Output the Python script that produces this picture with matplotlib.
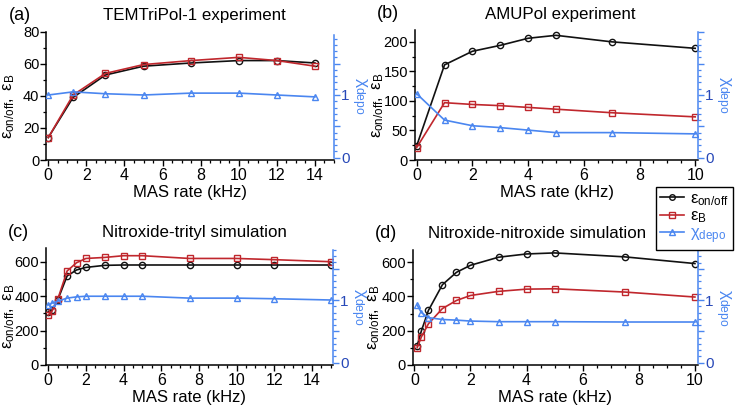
import numpy as np
import matplotlib
matplotlib.use('Agg')
import matplotlib.pyplot as plt
from matplotlib.ticker import MultipleLocator, FuncFormatter
from matplotlib.lines import Line2D

plt.rcParams['font.family'] = ['Liberation Sans', 'DejaVu Sans']
plt.rcParams['mathtext.fontset'] = 'custom'
plt.rcParams['mathtext.rm'] = 'Liberation Sans'
plt.rcParams['mathtext.it'] = 'Liberation Sans'
plt.rcParams['mathtext.bf'] = 'Liberation Sans'

# (a) TEMTriPol-1 experiment
a_x = [0, 1.3, 3, 5, 7.5, 10, 12, 14]
a_onoff = [14, 39, 53, 58.5, 60.5, 62, 62, 60.5]
a_B = [14, 40.5, 54, 59.5, 62, 64, 62, 58.5]
a_chi = [1.0, 1.05, 1.02, 1.0, 1.03, 1.03, 1.0, 0.97]

# (b) AMUPol experiment
b_x = [0, 1, 2, 3, 4, 5, 7, 10]
b_onoff = [24, 161, 184, 194, 206, 211, 200, 189]
b_B = [21, 97, 94, 92, 89, 86, 80, 73]
b_chi = [1.02, 0.60, 0.51, 0.48, 0.44, 0.40, 0.40, 0.38]

# (c) Nitroxide-trityl simulation
c_x = [0, 0.2, 0.5, 1, 1.5, 2, 3, 4, 5, 7.5, 10, 12, 15]
c_onoff = [310, 319, 377, 517, 552, 567, 579, 581, 581, 581, 581, 581, 581]
c_B = [290, 313, 381, 546, 594, 619, 625, 635, 635, 619, 619, 612, 600]
c_chi = [0.92, 0.95, 0.98, 1.03, 1.05, 1.06, 1.06, 1.06, 1.06, 1.03, 1.03, 1.02, 1.0]

# (d) Nitroxide-nitroxide simulation
d_x = [0.1, 0.25, 0.5, 1, 1.5, 2, 3, 4, 5, 7.5, 10]
d_onoff = [113, 199, 318, 468, 540, 581, 628, 647, 653, 630, 591]
d_B = [101, 164, 240, 329, 376, 405, 429, 442, 444, 425, 396]
d_chi = [0.92, 0.80, 0.72, 0.69, 0.68, 0.665, 0.655, 0.655, 0.655, 0.65, 0.65]

W, H = 739, 409
BLACK = '#111111'
RED = '#c0272d'
BLUE = '#4a86f0'
DBLUE = '#2748b8'
FS = 10.5

fig = plt.figure(figsize=(W / 100, H / 100), dpi=100)


def panel(box, xs, onoff, B, chi, xlim, ylim, ymaj, ymin, xmaj, rtop, rzero_px,
          tag, title, title_cx, xticks_max, ylab_x):
    l, r, t, b = box
    ax = fig.add_axes([l / W, 1 - b / H, (r - l) / W, (b - t) / H])
    ax.plot(xs, onoff, '-o', color=BLACK, mfc='none', ms=4.5, mew=1, lw=1.2, zorder=3)
    ax.plot(xs, B, '-s', color=RED, mfc='none', ms=5, mew=1, lw=1.2, zorder=4)
    ax.set_xlim(*xlim)
    ax.set_ylim(*ylim)
    ax.xaxis.set_major_locator(MultipleLocator(xmaj))
    ax.xaxis.set_minor_locator(MultipleLocator(0.5))
    ax.yaxis.set_major_locator(MultipleLocator(ymaj))
    ax.yaxis.set_minor_locator(MultipleLocator(ymin))
    ax.xaxis.set_major_formatter(FuncFormatter(lambda v, p: '%d' % round(v) if v <= xticks_max + 1e-6 else ''))
    for s in ['top', 'right']:
        ax.spines[s].set_visible(False)
    for s in ['left', 'bottom']:
        ax.spines[s].set_linewidth(1.1)
    ax.tick_params(which='major', direction='out', length=4, width=1, labelsize=11.5, pad=2)
    ax.tick_params(axis='y', which='major', labelsize=FS, pad=1)
    ax.tick_params(which='minor', direction='out', length=2.5, width=0.9)
    ax.set_xlabel('MAS rate (kHz)', fontsize=12, labelpad=1)
    ax.set_ylabel(r'$ε_{on/off},\ ε_B$', fontsize=12)
    hpx = b - t
    ax.yaxis.set_label_coords((ylab_x - l) / (r - l), 0.5 - 10 / hpx)
    ax.yaxis.label.set_va('center')

    # right axis for chi
    ax2 = ax.twinx()
    unit = 62.7
    lo = -rzero_px / unit
    hi = (hpx - rzero_px) / unit
    ax2.set_ylim(lo, hi)
    ax2.plot(xs, chi, '-^', color=BLUE, mfc='none', ms=4.5, mew=1, lw=1.2, zorder=5)
    for s in ['top', 'left', 'bottom']:
        ax2.spines[s].set_visible(False)
    ax2.spines['right'].set_color(BLUE)
    ax2.spines['right'].set_linewidth(1.1)
    ax2.spines['right'].set_bounds(0, rtop)
    ax2.set_yticks(np.arange(0, rtop + 1e-6, 0.5))
    ax2.set_yticks(np.arange(0, rtop + 1e-6, 0.1), minor=True)
    ax2.yaxis.set_major_formatter(FuncFormatter(lambda v, p: '%d' % round(v) if abs(v - round(v)) < 1e-6 and v < 1.5 else ''))
    ax2.tick_params(which='major', direction='out', length=4, width=1, color=BLUE,
                    labelcolor=DBLUE, labelsize=11, pad=1)
    ax2.tick_params(which='minor', direction='out', length=2.5, width=0.9, color=BLUE)
    ax2.set_ylabel(r'$χ_{depo}$', color=BLUE, fontsize=12.5, rotation=270)
    ax2.yaxis.set_label_coords(1 + 25 / (r - l), 0.5)
    ax2.yaxis.label.set_va('center')
    ax2.yaxis.label.set_ha('center')

    fig.text(title_cx / W, 1 - (t - 16) / H, title, fontsize=12.2, ha='center', va='center')
    fig.text((l - 38) / W, 1 - (t - 16) / H, tag, fontsize=13, ha='left', va='center')
    return ax


panel((46.4, 334, 31.7, 160), a_x, a_onoff, a_B, a_chi, (-0.1, 15), (0, 80), 20, 10, 2,
      1.96, 2.3, '(a)', 'TEMTriPol-1 experiment', 194, 14, 9)
panel((415, 698, 30, 160), b_x, b_onoff, b_B, b_chi, (-0.06, 10.1), (0, 220), 50, 25, 2,
      2.0, 2.3, '(b)', 'AMUPol experiment', 560, 10, 378)
panel((46, 333, 248.3, 365), c_x, c_onoff, c_B, c_chi, (-0.12, 15.12), (0, 678), 200, 100, 2,
      1.8, 2.3, '(c)', 'Nitroxide-trityl simulation', 194, 14, 9)
panel((412.7, 698.3, 250, 365), d_x, d_onoff, d_B, d_chi, (-0.06, 10.12), (0, 670), 200, 100, 2,
      1.8, 2.3, '(d)', 'Nitroxide-nitroxide simulation', 537, 10, 374.5)

handles = [
    Line2D([], [], color=BLACK, marker='o', mfc='none', ms=4, mew=1, lw=1.2),
    Line2D([], [], color=RED, marker='s', mfc='none', ms=4.5, mew=1, lw=1.2),
    Line2D([], [], color=BLUE, marker='^', mfc='none', ms=4, mew=1, lw=1.2),
]
labels = [r'$ε_{on/off}$', r'$ε_B$', r'$χ_{depo}$']
leg = fig.legend(handles, labels, loc='upper left', bbox_to_anchor=(656 / W, 1 - 187 / H),
                 fontsize=12, handlelength=1.4, handletextpad=0.4, borderpad=0.25,
                 labelspacing=0.05, fancybox=False, framealpha=1, edgecolor='black',
                 borderaxespad=0)
leg.get_frame().set_linewidth(1.0)
leg.get_texts()[2].set_color(BLUE)

fig.savefig('out.png', dpi=100)
